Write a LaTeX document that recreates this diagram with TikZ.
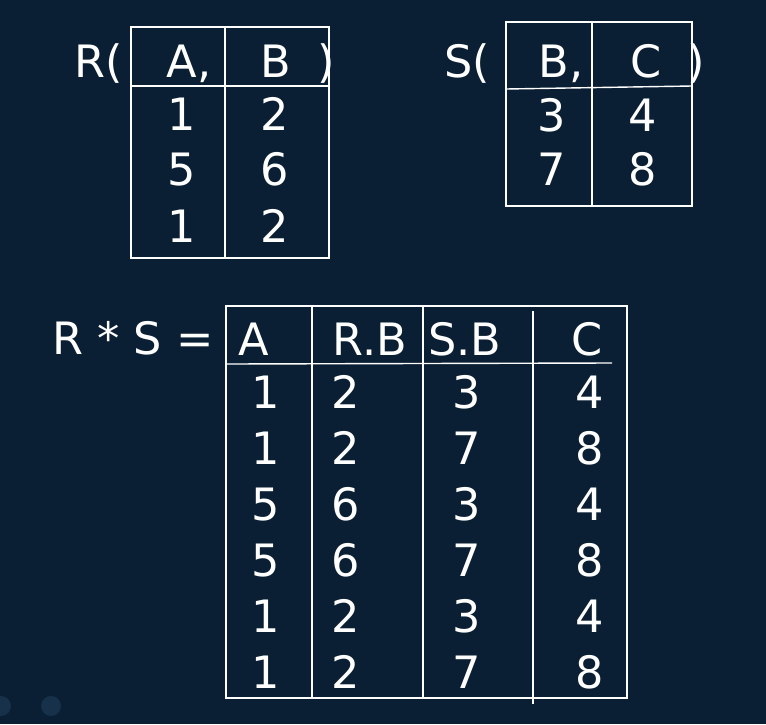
\documentclass[tikz,border=0pt]{standalone}
\usepackage{fontspec}
\setmainfont{DejaVu Sans}
\definecolor{slide background color}{HTML}{0A1F33}
\definecolor{slide dot color}{HTML}{17314B}
\tikzset{
    x={1pt},
    y={-1pt},
    slide background/.style={
        fill=slide background color,
    },
    slide dot/.style={
        fill=slide dot color,
    },
    table rule/.style={
        draw=white,
        line width={1.4pt},
    },
    cell/.style={
        text=white,
        anchor=base,
        inner sep=0pt,
        outer sep=0pt,
        font={\fontsize{44.6}{50}\selectfont},
    },
}

\begin{document}
\begin{tikzpicture}
% background
\useasboundingbox (0,0) rectangle (766,724);
\path[slide background] (0,0) rectangle (766,724);
\path[slide dot] (1,706) circle[radius=10];
\path[slide dot] (51,706) circle[radius=10];
% table R
\path[table rule] (131,27) rectangle (329,258);
\path[table rule] (225,27) -- (225,258);
\path[table rule] (130,86) -- (329,86);
\node[cell] (rName) at (99,77) {R(};
\node[cell] (rHeadA) at (189,77) {A,};
\node[cell] (rHeadB) at (276,77) {B};
\node[cell] (rClose) at (326,77) {)};
\node[cell] (rA1) at (182,130) {1};
\node[cell] (rB1) at (275,130) {2};
\node[cell] (rA2) at (182,185) {5};
\node[cell] (rB2) at (275,185) {6};
\node[cell] (rA3) at (182,242) {1};
\node[cell] (rB3) at (275,242) {2};
% table S
\path[table rule] (506,22) rectangle (692,206);
\path[table rule] (592,22) -- (592,206);
\path[table rule] (506,89) -- (692,86);
\node[cell] (sName) at (467,77) {S(};
\node[cell] (sHeadB) at (561,77) {B,};
\node[cell] (sHeadC) at (646,77) {C};
\node[cell] (sClose) at (696,77) {)};
\node[cell] (sB1) at (552,131) {3};
\node[cell] (sC1) at (643,131) {4};
\node[cell] (sB2) at (552,185) {7};
\node[cell] (sC2) at (643,185) {8};
% table R * S
\path[table rule] (226,306) rectangle (627,698);
\path[table rule] (312,306) -- (312,698);
\path[table rule] (423,306) -- (423,698);
\path[table rule] (533,311) -- (533,704);
\path[table rule] (226,364) -- (612,363);
\node[cell] (rsName) at (133,354) {R * S =};
\node[cell] (rsHeadA) at (254,355) {A};
\node[cell] (rsHeadRB) at (370,355) {R.B};
\node[cell] (rsHeadSB) at (465,355) {S.B};
\node[cell] (rsHeadC) at (587,355) {C};
\node[cell] (rsA1) at (266,408) {1};
\node[cell] (rsRB1) at (346,408) {2};
\node[cell] (rsSB1) at (467,408) {3};
\node[cell] (rsC1) at (590,408) {4};
\node[cell] (rsA2) at (266,464) {1};
\node[cell] (rsRB2) at (346,464) {2};
\node[cell] (rsSB2) at (467,464) {7};
\node[cell] (rsC2) at (590,464) {8};
\node[cell] (rsA3) at (266,520) {5};
\node[cell] (rsRB3) at (346,520) {6};
\node[cell] (rsSB3) at (467,520) {3};
\node[cell] (rsC3) at (590,520) {4};
\node[cell] (rsA4) at (266,576) {5};
\node[cell] (rsRB4) at (346,576) {6};
\node[cell] (rsSB4) at (467,576) {7};
\node[cell] (rsC4) at (590,576) {8};
\node[cell] (rsA5) at (266,632) {1};
\node[cell] (rsRB5) at (346,632) {2};
\node[cell] (rsSB5) at (467,632) {3};
\node[cell] (rsC5) at (590,632) {4};
\node[cell] (rsA6) at (266,688) {1};
\node[cell] (rsRB6) at (346,688) {2};
\node[cell] (rsSB6) at (467,688) {7};
\node[cell] (rsC6) at (590,688) {8};
\end{tikzpicture}
\end{document}
